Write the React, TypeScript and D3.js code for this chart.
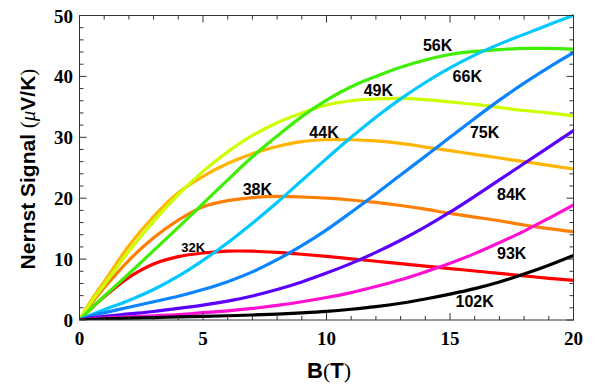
import React, { useEffect, useRef } from 'react';
import * as d3 from 'd3';

// field values (T) at which the curves were read
const fields = [0, 0.5, 1, 2, 3, 4, 5, 6, 7, 8, 9, 10, 11, 12, 13, 14, 15, 16, 17, 18, 19, 20];

const temps = ['32K', '38K', '44K', '49K', '56K', '66K', '75K', '84K', '93K', '102K'];
const colors = ['#ff0000', '#ff7f00', '#ffb400', '#ccff00', '#3fef00', '#00c8ff', '#0a84ff', '#5a00ff', '#ff10d2', '#000000'];

const s32 = [0, 2.0, 3.8, 7.0, 9.2, 10.4, 11.0, 11.3, 11.3, 11.1, 10.8, 10.45, 10.05, 9.65, 9.25, 8.85, 8.45, 8.05, 7.65, 7.25, 6.85, 6.5];
const s38 = [0, 2.8, 5.3, 9.8, 13.5, 16.4, 18.6, 19.6, 20.1, 20.3, 20.2, 20.0, 19.7, 19.3, 18.8, 18.2, 17.5, 16.9, 16.3, 15.6, 15.0, 14.5];
const s44 = [0, 3.4, 6.3, 12.2, 17.0, 20.9, 23.6, 25.7, 27.3, 28.5, 29.3, 29.6, 29.6, 29.4, 29.0, 28.4, 27.8, 27.2, 26.6, 26.0, 25.4, 24.8];
const s49 = [0, 3.1, 5.8, 11.3, 16.2, 20.6, 24.4, 27.6, 30.3, 32.4, 34.0, 35.3, 36.0, 36.3, 36.4, 36.2, 35.8, 35.4, 34.9, 34.4, 34.0, 33.5];
const s56 = [0, 2.0, 3.9, 7.6, 11.4, 15.2, 19.1, 23.0, 26.8, 30.2, 33.4, 36.1, 38.3, 40.0, 41.5, 42.7, 43.6, 44.1, 44.4, 44.6, 44.6, 44.5];
const s66 = [0, 0.9, 1.7, 3.2, 5.0, 7.2, 9.8, 12.7, 15.9, 19.3, 22.9, 26.5, 30.0, 33.3, 36.3, 39.0, 41.4, 43.5, 45.3, 46.9, 48.5, 50.0];
const s75 = [0, 0.7, 1.2, 2.1, 3.0, 3.9, 5.0, 6.3, 7.9, 9.9, 12.2, 14.8, 17.7, 20.7, 23.8, 26.9, 30.0, 33.1, 36.1, 38.9, 41.5, 43.9];
const s84 = [0, 0.35, 0.6, 1.0, 1.4, 1.9, 2.45, 3.1, 3.95, 5.0, 6.25, 7.7, 9.3, 11.1, 13.1, 15.3, 17.7, 20.3, 23.0, 25.7, 28.4, 31.1];
const s93 = [0, 0.2, 0.3, 0.5, 0.7, 0.9, 1.2, 1.5, 1.9, 2.4, 3.0, 3.7, 4.5, 5.5, 6.6, 7.9, 9.3, 10.9, 12.7, 14.6, 16.7, 18.9];
const s102 = [0, 0.12, 0.2, 0.3, 0.4, 0.5, 0.6, 0.7, 0.82, 0.97, 1.17, 1.42, 1.77, 2.2, 2.75, 3.45, 4.25, 5.15, 6.25, 7.55, 9.0, 10.6];

const series = [s32, s38, s44, s49, s56, s66, s75, s84, s93, s102];

// where each temperature label sits, in data units (B, signal)
const labelB = [4.6, 7.2, 9.9, 12.1, 14.5, 15.7, 16.4, 17.5, 17.5, 16.0];
const labelV = [12.0, 21.5, 30.9, 37.7, 45.1, 40.0, 30.9, 20.6, 11.0, 3.0];

const xTicks = [0, 5, 10, 15, 20];
const yTicks = [0, 10, 20, 30, 40, 50];

function App() {
  const svgRef = useRef(null);

  useEffect(() => {
    document.body.style.margin = '0';
    const width = 597;
    const height = 385;
    const left = 79.5, right = 573.5, top = 15.5, bottom = 320;

    const svg = d3.select(svgRef.current)
      .attr('width', width)
      .attr('height', height)
      .style('display', 'block')
      .style('background', '#fff');
    svg.selectAll('*').remove();

    const x = d3.scaleLinear().domain([0, 20]).range([left, right]);
    const y = d3.scaleLinear().domain([0, 50]).range([bottom, top]);

    svg.append('clipPath').attr('id', 'plotclip')
      .append('rect')
      .attr('x', left).attr('y', top - 2)
      .attr('width', right - left).attr('height', bottom - top + 2);

    const line = d3.line()
      .x(d => x(d[0]))
      .y(d => y(d[1]))
      .curve(d3.curveCatmullRom.alpha(0.5));

    const curves = svg.append('g').attr('clip-path', 'url(#plotclip)');
    series.forEach((vals, i) => {
      curves.append('path')
        .datum(fields.map((b, j) => [b, vals[j]]))
        .attr('d', line)
        .attr('fill', 'none')
        .attr('stroke', colors[i])
        .attr('stroke-width', 3.2)
        .attr('stroke-linecap', 'round');
    });

    // frame
    svg.append('rect')
      .attr('x', left).attr('y', top)
      .attr('width', right - left).attr('height', bottom - top)
      .attr('fill', 'none')
      .attr('stroke', '#333')
      .attr('stroke-width', 1);

    // inward ticks on all four sides
    const ticks = svg.append('g').attr('stroke', '#333').attr('stroke-width', 1);
    d3.range(0, 21, 1).forEach(b => {
      const len = b % 5 === 0 ? 7 : 4;
      const px = x(b);
      ticks.append('line').attr('x1', px).attr('x2', px).attr('y1', bottom).attr('y2', bottom - len);
      ticks.append('line').attr('x1', px).attr('x2', px).attr('y1', top).attr('y2', top + len);
    });
    d3.range(0, 51, 2).forEach(v => {
      const len = v % 10 === 0 ? 7 : 4;
      const py = y(v);
      ticks.append('line').attr('x1', left).attr('x2', left + len).attr('y1', py).attr('y2', py);
      ticks.append('line').attr('x1', right).attr('x2', right - len).attr('y1', py).attr('y2', py);
    });

    const serif = '"Liberation Serif", "DejaVu Serif", serif';
    const sans = '"Liberation Sans", Arial, sans-serif';

    svg.append('g').selectAll('text')
      .data(xTicks)
      .enter().append('text')
      .attr('x', d => x(d))
      .attr('y', 345)
      .attr('text-anchor', 'middle')
      .attr('font-family', serif)
      .attr('font-weight', 'bold')
      .attr('font-size', 19)
      .text(d => d);

    svg.append('g').selectAll('text')
      .data(yTicks)
      .enter().append('text')
      .attr('x', 73)
      .attr('y', d => y(d) + 7)
      .attr('text-anchor', 'end')
      .attr('font-family', serif)
      .attr('font-weight', 'bold')
      .attr('font-size', 19)
      .text(d => d);

    // axis titles
    const xt = svg.append('text')
      .attr('x', 329).attr('y', 378)
      .attr('text-anchor', 'middle')
      .attr('font-family', sans)
      .attr('font-weight', 'bold')
      .attr('font-size', 22);
    xt.append('tspan').text('B');
    xt.append('tspan').attr('font-family', serif).attr('font-weight', 'normal').text('(');
    xt.append('tspan').text('T');
    xt.append('tspan').attr('font-family', serif).attr('font-weight', 'normal').text(')');

    const yt = svg.append('text')
      .attr('transform', 'translate(35,169) rotate(-90)')
      .attr('text-anchor', 'middle')
      .attr('font-family', sans)
      .attr('font-weight', 'bold')
      .attr('font-size', 21);
    yt.append('tspan').text('Nernst Signal ');
    yt.append('tspan').attr('font-family', serif).attr('font-weight', 'normal').text('(');
    yt.append('tspan').attr('font-family', serif).attr('font-weight', 'normal').attr('font-style', 'italic').text('μ');
    yt.append('tspan').text('V/K');
    yt.append('tspan').attr('font-family', serif).attr('font-weight', 'normal').text(')');

    // temperature labels
    svg.append('g').selectAll('text')
      .data(temps)
      .enter().append('text')
      .attr('x', (d, i) => x(labelB[i]))
      .attr('y', (d, i) => y(labelV[i]))
      .attr('dy', '0.36em')
      .attr('text-anchor', 'middle')
      .attr('font-family', sans)
      .attr('font-weight', 'bold')
      .attr('font-size', (d, i) => (i === 0 ? 13 : 16))
      .text(d => d);
  }, []);

  return <svg ref={svgRef}></svg>;
}

export default App;
